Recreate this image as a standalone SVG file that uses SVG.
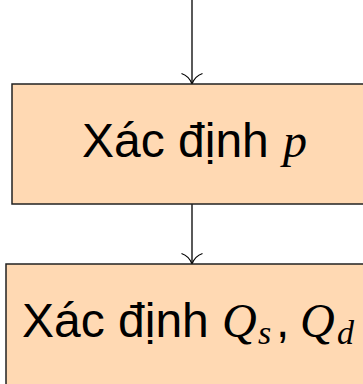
<svg xmlns="http://www.w3.org/2000/svg" width="363" height="384" viewBox="0 0 363 384">
<style>
.box{fill:#FFD9B3;stroke:#222;stroke-width:1.5}
.lbl{font-family:"Liberation Sans",Arial,sans-serif;font-size:48px;fill:#000}
.m{font-family:"Liberation Serif","Times New Roman",serif;font-style:italic}
.sub{font-size:34px}
.edge{fill:none;stroke:#000;stroke-width:1.3}
</style>
<defs>
<marker id="arr" markerUnits="userSpaceOnUse" markerWidth="16" markerHeight="24" refX="13" refY="12" viewBox="0 0 16 24" orient="auto">
<path d="M2.5 1.5 Q5 9 13 12 Q5 15 2.5 22.5" fill="none" stroke="#000" stroke-width="1.3"/>
</marker>
</defs>
<g id="connectors">
<line class="edge" x1="192" y1="0" x2="192" y2="84" marker-end="url(#arr)"/>
<line class="edge" x1="192" y1="204" x2="192" y2="264" marker-end="url(#arr)"/>
</g>
<g id="node1">
<rect class="box" x="12" y="84" width="360" height="120"/>
<text class="lbl" x="82" y="157">Xác định <tspan class="m" x="283">p</tspan></text>
</g>
<g id="node2">
<rect class="box" x="6" y="264" width="372" height="130"/>
<text class="lbl" x="22" y="337">Xác định <tspan class="m" x="222">Q</tspan><tspan class="m sub" x="258" dy="7">s</tspan><tspan x="276" dy="-7">,</tspan><tspan class="m" x="300">Q</tspan><tspan class="m sub" x="337" dy="7">d</tspan></text>
</g>
</svg>
